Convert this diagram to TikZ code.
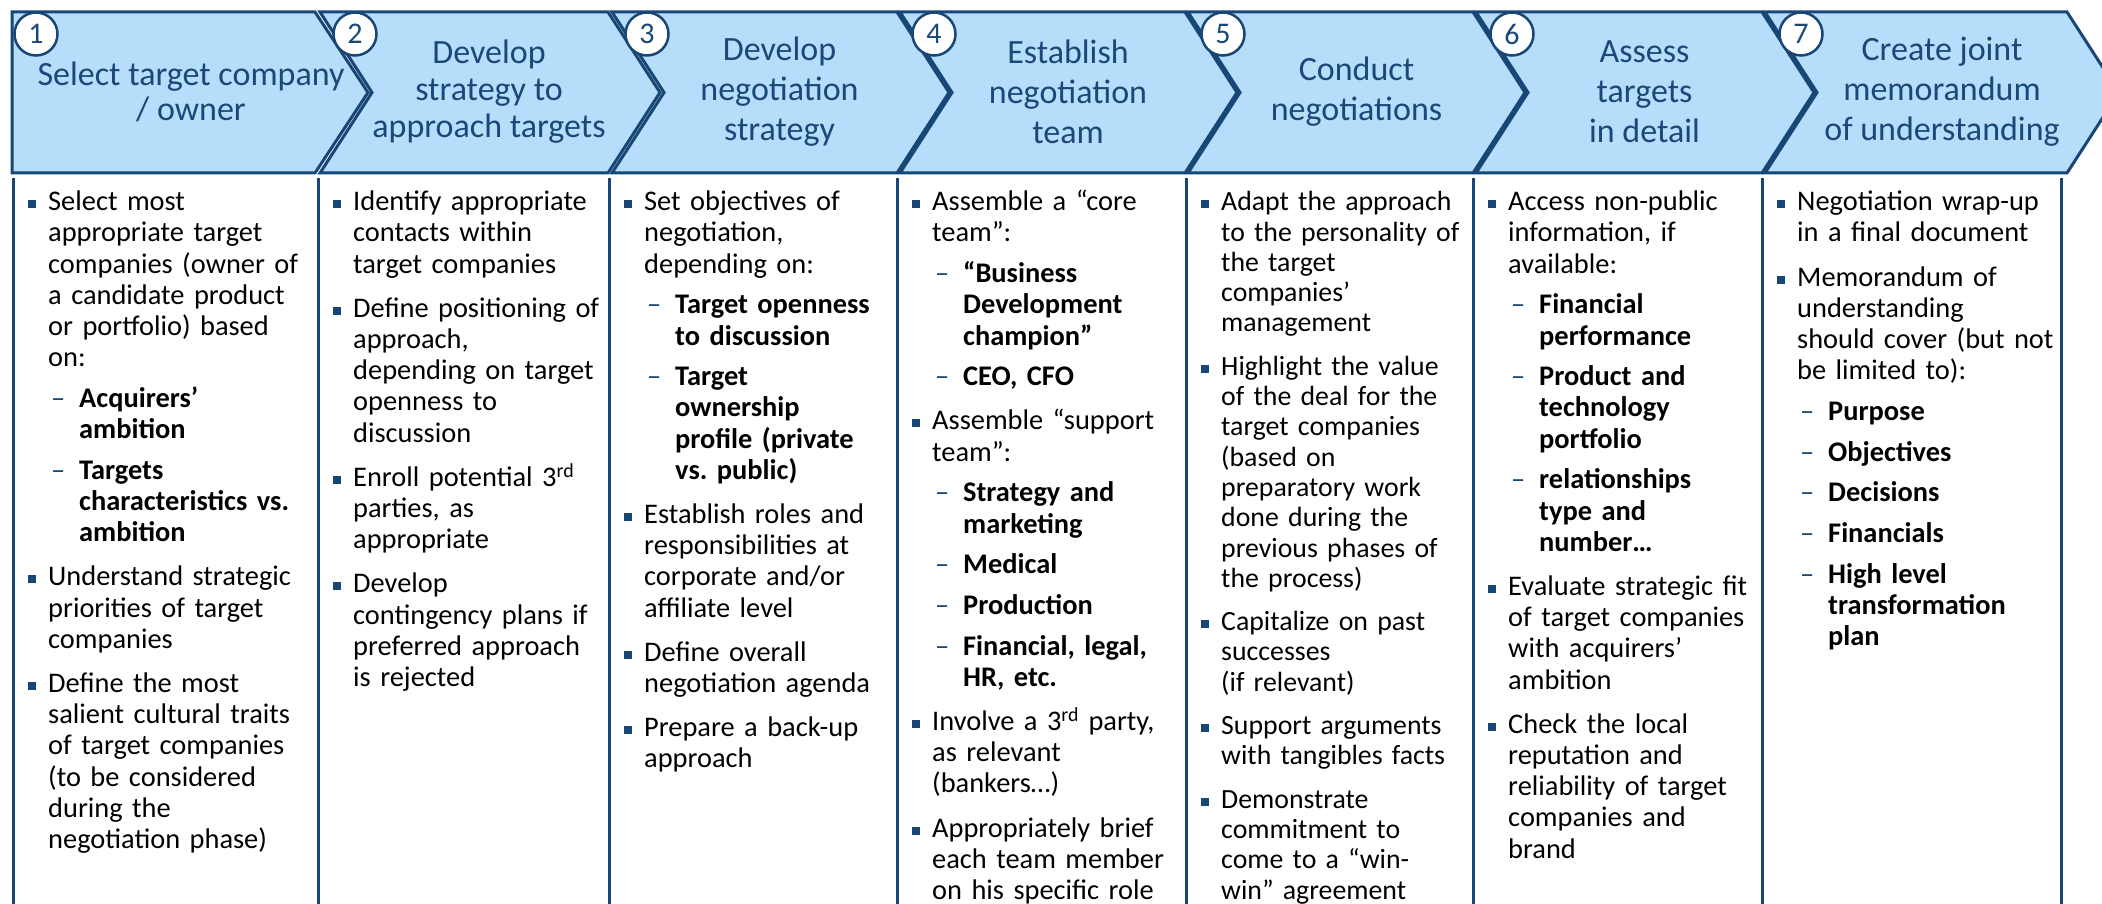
\documentclass[tikz,border=0pt]{standalone}
\usepackage{fontspec}
\setmainfont{Carlito}
\definecolor{dblue}{RGB}{24,70,118}
\definecolor{hblue}{RGB}{26,72,120}
\definecolor{lblue}{RGB}{182,221,249}
\newlength\mgap \setlength\mgap{13pt}
\newlength\sgap \setlength\sgap{9.5pt}
\newcommand{\bsq}{\textcolor{dblue}{\rule[2.6pt]{8pt}{8pt}}}
\newcommand{\mf}[1]{\noindent\llap{\bsq\hspace{12pt}}\rule{0pt}{24pt}#1\par}
\newcommand{\mi}[1]{\vspace{\mgap}\noindent\llap{\bsq\hspace{12pt}}#1\par}
\newcommand{\si}[1]{\vspace{\sgap}{\leftskip=31pt\noindent\llap{\textcolor{dblue}{–}\hspace{14pt}}\textbf{#1}\par}}
\tikzset{
 chev/.style={fill=lblue, draw=dblue, line width=3pt, line join=miter},
 vline/.style={draw=dblue, line width=3pt},
 hdr/.style={align=center, text=hblue, inner sep=0pt},
 num/.style={circle, draw=dblue, fill=white, line width=2.5pt, minimum size=43pt, inner sep=0pt, text=hblue, font=\fontsize{30}{30}\selectfont},
 body/.style={anchor=north west, inner sep=0pt, text width=400pt, align=left, font=\fontsize{28.4}{31.2}\selectfont}
}
\begin{document}
\begin{tikzpicture}[x=1pt,y=-1pt]
\useasboundingbox (0,0) rectangle (2102,904);
\clip (0,0) rectangle (2102,904);
% chevrons
\draw[chev] (12,12) -- (315,12) -- (368,92.5) -- (315,173) -- (12,173) -- cycle;
\foreach \L/\R in {320/608, 612/897, 900/1185, 1188/1473, 1476/1762, 1765/2067}{
  \draw[chev] (\L,12) -- (\R,12) -- (\R+52,92.5) -- (\R,173) -- (\L,173) -- (\L+52,92.5) -- cycle;
}
% column lines
\foreach \x in {13,318,609,897,1186,1473,1762,2061}{
  \draw[vline] (\x,178) -- (\x,910);
}
% numbers
\node[num] (n1) at (36,34) {1};
\node[num] (n2) at (355,34) {2};
\node[num] (n3) at (647,34) {3};
\node[num] (n4) at (934,34) {4};
\node[num] (n5) at (1223,34) {5};
\node[num] (n6) at (1512,34) {6};
\node[num] (n7) at (1801,34) {7};
% headers
\node[hdr, font=\fontsize{34}{35}\selectfont] (h1) at (191,92) {Select target company\\/ owner};
\node[hdr, font=\fontsize{34}{37}\selectfont] (h2) at (489,92) {Develop\\strategy to\\approach targets};
\node[hdr, font=\fontsize{34}{40}\selectfont] (h3) at (779.5,92) {Develop\\negotiation\\strategy};
\node[hdr, font=\fontsize{34}{40}\selectfont] (h4) at (1068,92) {Establish\\negotiation\\team};
\node[hdr, font=\fontsize{34}{40}\selectfont] (h5) at (1356.5,92) {Conduct\\negotiations};
\node[hdr, font=\fontsize{34}{40}\selectfont] (h6) at (1644.5,92) {Assess\\targets\\in detail};
\node[hdr, font=\fontsize{34}{40}\selectfont] (h7) at (1942,92) {Create joint\\memorandum\\of understanding};
% bodies
\node[body] (b1) at (48,186.6) {%
\mf{Select most\newline appropriate target\newline companies (owner of\newline a candidate product\newline or portfolio) based\newline on:}
\si{Acquirers’\newline ambition}
\si{Targets\newline characteristics vs.\newline ambition}
\mi{Understand strategic\newline priorities of target\newline companies}
\mi{Define the most\newline salient cultural traits\newline of target companies\newline (to be considered\newline during the\newline negotiation phase)}};
\node[body] (b2) at (353,186.6) {%
\mf{Identify appropriate\newline contacts within\newline target companies}
\mi{Define positioning of\newline approach,\newline depending on target\newline openness to\newline discussion}
\mi{Enroll potential 3\textsuperscript{rd}\newline parties, as\newline appropriate}
\mi{Develop\newline contingency plans if\newline preferred approach\newline is rejected}};
\node[body] (b3) at (644,186.6) {%
\mf{Set objectives of\newline negotiation,\newline depending on:}
\si{Target openness\newline to discussion}
\si{Target\newline ownership\newline profile (private\newline vs.\ public)}
\mi{Establish roles and\newline responsibilities at\newline corporate and/or\newline affiliate level}
\mi{Define overall\newline negotiation agenda}
\mi{Prepare a back-up\newline approach}};
\node[body] (b4) at (932,186.6) {%
\mf{Assemble a “core\newline team”:}
\si{“Business\newline Development\newline champion”}
\si{CEO, CFO}
\mi{Assemble “support\newline team”:}
\si{Strategy and\newline marketing}
\si{Medical}
\si{Production}
\si{Financial, legal,\newline HR, etc.}
\mi{Involve a 3\textsuperscript{rd} party,\newline as relevant\newline (bankers…)}
\mi{Appropriately brief\newline each team member\newline on his specific role}};
\node[body, font=\fontsize{27.8}{30.3}\selectfont] (b5) at (1221,186.6) {%
\mf{Adapt the approach\newline to the personality of\newline the target\newline companies’\newline management}
\mi{Highlight the value\newline of the deal for the\newline target companies\newline (based on\newline preparatory work\newline done during the\newline previous phases of\newline the process)}
\mi{Capitalize on past\newline successes\newline (if relevant)}
\mi{Support arguments\newline with tangibles facts}
\mi{Demonstrate\newline commitment to\newline come to a “win-\newline win” agreement}};
\node[body] (b6) at (1508,186.6) {%
\mf{Access non-public\newline information, if\newline available:}
\si{Financial\newline performance}
\si{Product and\newline technology\newline portfolio}
\si{relationships\newline type and\newline number…}
\mi{Evaluate strategic fit\newline of target companies\newline with acquirers’\newline ambition}
\mi{Check the local\newline reputation and\newline reliability of target\newline companies and\newline brand}};
\node[body] (b7) at (1797,186.6) {%
\mf{Negotiation wrap-up\newline in a final document}
\mi{Memorandum of\newline understanding\newline should cover (but not\newline be limited to):}
\si{Purpose}
\si{Objectives}
\si{Decisions}
\si{Financials}
\si{High level\newline transformation\newline plan}};
\end{tikzpicture}
\end{document}
